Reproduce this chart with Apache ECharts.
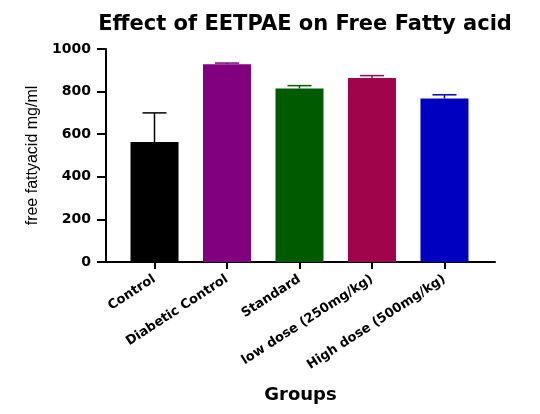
<!DOCTYPE html>
<html>
<head>
<meta charset="utf-8">
<script src="https://cdn.jsdelivr.net/npm/echarts@6/dist/echarts.min.js"></script>
<style>html,body{margin:0;padding:0;background:#fff}#c{width:540px;height:414px}</style>
</head>
<body>
<div id="c"></div>
<script>
var categories = ['Control', 'Diabetic Control', 'Standard', 'low dose (250mg/kg)', 'High dose (500mg/kg)'];
var means = [563, 928, 815, 864, 768];
var upperErrors = [700, 934, 828, 875, 785];
var barColors = ['#000000', '#800080', '#005a00', '#a0044a', '#0000c0'];
var yTicks = [0, 200, 400, 600, 800, 1000];

var FONT = 'DejaVu Sans';
var chart = echarts.init(document.getElementById('c'));

var barData = categories.map(function (c, i) {
  return { value: [i, means[i]], itemStyle: { color: barColors[i] } };
});
var errData = categories.map(function (c, i) {
  return [i, means[i], upperErrors[i]];
});

chart.setOption({
  animation: false,
  backgroundColor: '#ffffff',
  title: {
    text: 'Effect of EETPAE on Free Fatty acid',
    left: 300,
    textAlign: 'center',
    top: 9,
    textStyle: { fontFamily: FONT, fontWeight: 'bold', fontSize: 21, color: '#000' }
  },
  grid: { left: 106, right: 45, top: 49, bottom: 152, containLabel: false },
  xAxis: {
    type: 'value',
    min: -0.669,
    max: 4.697,
    splitLine: { show: false },
    axisLine: { show: true, onZero: false, lineStyle: { color: '#000', width: 2 } },
    axisTick: { show: true, customValues: [0, 1, 2, 3, 4], length: 7, lineStyle: { color: '#000', width: 2 } },
    axisLabel: {
      customValues: [0, 1, 2, 3, 4],
      rotate: 33,
      margin: 16,
      formatter: function (v) { return categories[Math.round(v)]; },
      fontFamily: FONT, fontWeight: 'bold', fontSize: 13, color: '#000'
    },
    name: 'Groups',
    nameLocation: 'middle',
    nameGap: 124,
    nameTextStyle: { fontFamily: FONT, fontWeight: 'bold', fontSize: 18, color: '#000' }
  },
  yAxis: {
    type: 'value',
    min: 0,
    max: 1000,
    interval: 200,
    splitLine: { show: false },
    axisLine: { show: true, onZero: false, lineStyle: { color: '#000', width: 2 } },
    axisTick: { show: true, length: 9, lineStyle: { color: '#000', width: 2 } },
    axisLabel: {
      margin: 15,
      formatter: function (v) { return yTicks.indexOf(v) >= 0 ? String(v) : ''; },
      fontFamily: FONT, fontWeight: 'bold', fontSize: 14, color: '#000'
    },
    name: 'free fattyacid mg/ml',
    nameLocation: 'middle',
    nameRotate: 90,
    nameGap: 65,
    nameTextStyle: { fontFamily: 'Liberation Sans', fontSize: 16, color: '#000' }
  },
  series: [
    {
      type: 'bar',
      barWidth: 48,
      data: barData
    },
    {
      type: 'custom',
      data: errData,
      z: 3,
      renderItem: function (params, api) {
        var i = api.value(0);
        var top = api.coord([i, api.value(1)]);
        var cap = api.coord([i, api.value(2)]);
        var col = barColors[params.dataIndex];
        var half = 12;
        return {
          type: 'group',
          children: [
            { type: 'line', shape: { x1: top[0], y1: top[1], x2: cap[0], y2: cap[1] }, style: { stroke: col, lineWidth: 1.5 } },
            { type: 'line', shape: { x1: cap[0] - half, y1: cap[1], x2: cap[0] + half, y2: cap[1] }, style: { stroke: col, lineWidth: 1.5 } }
          ]
        };
      }
    }
  ]
});
</script>
</body>
</html>
